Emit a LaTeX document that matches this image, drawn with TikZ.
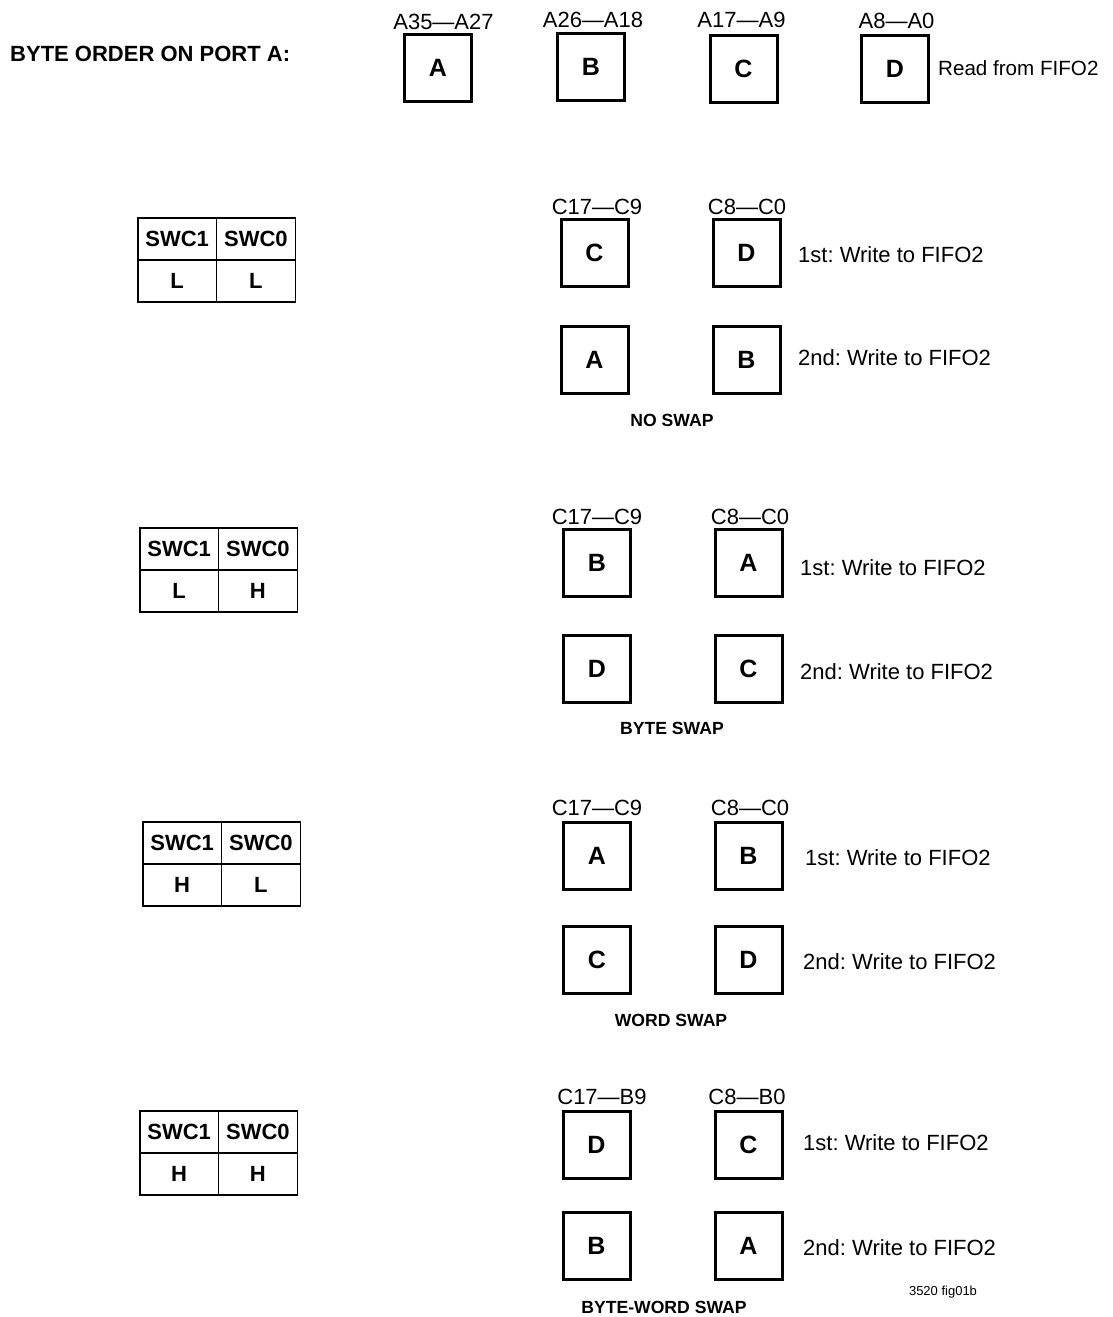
\documentclass[tikz,border=0pt]{standalone}
\usepackage{fontspec}
\setmainfont{Liberation Sans}
\frenchspacing
\begin{document}
\begin{tikzpicture}[x=1pt,y=-1pt,
  bytebox/.style={draw, line width=3pt, minimum size=67pt, inner sep=0pt, outer sep=0pt,
    font=\fontsize{25}{28}\selectfont\bfseries},
  cell/.style={draw, line width=1.5pt, minimum width=78.75pt, minimum height=42pt,
    inner sep=0pt, outer sep=0pt, anchor=north west,
    font=\fontsize{22}{26}\selectfont\bfseries},
  lbl/.style={inner sep=0pt, text depth=0pt, font=\fontsize{22}{26}\selectfont},
  note/.style={lbl, anchor=west},
  caption/.style={inner sep=0pt, text depth=0pt, font=\fontsize{17.6}{20}\selectfont\bfseries},
  title/.style={inner sep=0pt, text depth=0pt, anchor=west, font=\fontsize{22}{26}\selectfont\bfseries},
  figid/.style={inner sep=0pt, text depth=0pt, font=\fontsize{13}{15}\selectfont}
]
\useasboundingbox (0,0) rectangle (1112,1317);

% ---- header: byte order on port A ----
\node[title] (title) at (10,54) {BYTE ORDER ON PORT A:};
\node[bytebox] (pa) at (438,68) {A};
\node[bytebox] (pb) at (591,67) {B};
\node[bytebox] (pc) at (743.5,69) {C};
\node[bytebox] (pd) at (895,69) {D};
\node[lbl] (la) at (443.5,22) {A35—A27};
\node[lbl] (lb) at (593,20) {A26—A18};
\node[lbl] (lc) at (741.5,20) {A17—A9};
\node[lbl] (ld) at (896.5,21) {A8—A0};
\node[note, font=\fontsize{20.6}{24}\selectfont] (rd) at (938,68) {Read from FIFO2};

% ---- section 1: no swap ----
\node[cell] (s1a) at (137.75,217.75) {SWC1};
\node[cell] (s1b) at (s1a.north east) {SWC0};
\node[cell] (s1c) at (s1a.south west) {L};
\node[cell] (s1d) at (s1c.north east) {L};
\node[bytebox] (n1) at (594.5,253) {C};
\node[bytebox] (n2) at (746.5,253) {D};
\node[bytebox] (n3) at (594.5,359.5) {A};
\node[bytebox] (n4) at (746.5,359.5) {B};
\node[lbl] (nl1) at (597,207) {C17—C9};
\node[lbl] (nl2) at (747,207) {C8—C0};
\node[note] (nw1) at (798,255) {1st: Write to FIFO2};
\node[note] (nw2) at (798,358) {2nd: Write to FIFO2};
\node[caption] (ncap) at (672,420) {NO SWAP};

% ---- section 2: byte swap ----
\node[cell] (s2a) at (139.75,527.75) {SWC1};
\node[cell] (s2b) at (s2a.north east) {SWC0};
\node[cell] (s2c) at (s2a.south west) {L};
\node[cell] (s2d) at (s2c.north east) {H};
\node[bytebox] (b1) at (597,562.5) {B};
\node[bytebox] (b2) at (748.5,562.5) {A};
\node[bytebox] (b3) at (597,668.5) {D};
\node[bytebox] (b4) at (748.5,668.5) {C};
\node[lbl] (bl1) at (597,517) {C17—C9};
\node[lbl] (bl2) at (750,517) {C8—C0};
\node[note] (bw1) at (800,568) {1st: Write to FIFO2};
\node[note] (bw2) at (800,672) {2nd: Write to FIFO2};
\node[caption] (bcap) at (672,728) {BYTE SWAP};

% ---- section 3: word swap ----
\node[cell] (s3a) at (142.75,821.75) {SWC1};
\node[cell] (s3b) at (s3a.north east) {SWC0};
\node[cell] (s3c) at (s3a.south west) {H};
\node[cell] (s3d) at (s3c.north east) {L};
\node[bytebox] (w1) at (597,856) {A};
\node[bytebox] (w2) at (748.5,856) {B};
\node[bytebox] (w3) at (597,960) {C};
\node[bytebox] (w4) at (748.5,960) {D};
\node[lbl] (wl1) at (597,808) {C17—C9};
\node[lbl] (wl2) at (750,808) {C8—C0};
\node[note] (ww1) at (805,858) {1st: Write to FIFO2};
\node[note] (ww2) at (803,962) {2nd: Write to FIFO2};
\node[caption] (wcap) at (671,1020) {WORD SWAP};

% ---- section 4: byte-word swap ----
\node[cell] (s4a) at (139.75,1110.75) {SWC1};
\node[cell] (s4b) at (s4a.north east) {SWC0};
\node[cell] (s4c) at (s4a.south west) {H};
\node[cell] (s4d) at (s4c.north east) {H};
\node[bytebox] (x1) at (596.5,1145) {D};
\node[bytebox] (x2) at (748.5,1145) {C};
\node[bytebox] (x3) at (596.5,1245.5) {B};
\node[bytebox] (x4) at (748.5,1245.5) {A};
\node[lbl] (xl1) at (602,1097) {C17—B9};
\node[lbl] (xl2) at (747,1097) {C8—B0};
\node[note] (xw1) at (803,1143) {1st: Write to FIFO2};
\node[note] (xw2) at (803,1248) {2nd: Write to FIFO2};
\node[figid] (fid) at (943,1291) {3520 fig01b};
\node[caption] (xcap) at (664,1307.5) {BYTE-WORD SWAP};
\end{tikzpicture}
\end{document}
